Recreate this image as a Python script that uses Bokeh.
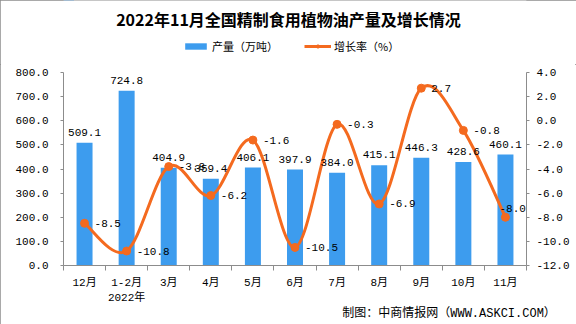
from bokeh.plotting import figure
from bokeh.models import (Range1d, LinearAxis, FixedTicker, NumeralTickFormatter,
                          ColumnDataSource, LabelSet, Label, Legend, LegendItem)
from bokeh.layouts import column
from bokeh.core.properties import value
from bokeh.embed import file_html
from bokeh.resources import INLINE
import numpy as np

title_text = "2022年11月全国精制食用植物油产量及增长情况"
footer_text = "制图：中商情报网（WWW.ASKCI.COM）"
series_names = ["产量（万吨）", "增长率（%）"]
categories = ["12月", "1-2月", "3月", "4月", "5月", "6月", "7月", "8月", "9月", "10月", "11月"]
year_label = "2022年"
production = [509.1, 724.8, 404.9, 359.4, 406.1, 397.9, 384.0, 415.1, 446.3, 428.6, 460.1]
growth = [-8.5, -10.8, -3.8, -6.2, -1.6, -10.5, -0.3, -6.9, 2.7, -0.8, -8.0]
left_ticks = [0, 100, 200, 300, 400, 500, 600, 700, 800]
right_ticks = [-12, -10, -8, -6, -4, -2, 0, 2, 4]

BLUE = "#3d9cee"
ORANGE = "#f46a1f"
AXIS = "#8c8c8c"
MONO = "'Liberation Mono', 'Noto Sans CJK SC'"
CJK = "Noto Sans CJK SC"
W = 576
TOP_H, MAIN_H = 64, 260
FRAME_L, FRAME_R = 63, 50
FOOTER_POS = 8.66  # category-axis position of the footer text centre

n = len(categories)
xs = np.arange(n, dtype=float)

# ---------- header: title + legend (frame aligned with main chart) ----------
frame_w = W - FRAME_L - FRAME_R
top = figure(width=W, height=TOP_H, output_backend="svg", toolbar_location=None,
             x_range=Range1d(0, frame_w), y_range=Range1d(0, TOP_H),
             min_border_left=FRAME_L, min_border_right=FRAME_R,
             min_border_top=0, min_border_bottom=0)
top.axis.visible = False
top.grid.visible = False
top.outline_line_color = None
top.background_fill_color = "white"
top.border_fill_color = "white"
top.add_layout(Label(x=288 - FRAME_L, y=TOP_H - 18, text=title_text, text_align="center",
                     text_baseline="middle", text_font=CJK, text_font_size="16px",
                     text_font_style="bold", text_color="#000000"))
# legend proxies: same data, lying outside this header's visible range
hdr = ColumnDataSource(dict(x=xs, v=production))
lg_bar = top.vbar(x="x", top="v", bottom="v", width=1, source=hdr, fill_color=BLUE, line_color=None)
lg_line = top.line(x="x", y="v", source=hdr, line_color=ORANGE, line_width=3)
lg_pt = top.scatter(x="x", y="v", source=hdr, size=7, fill_color=ORANGE, line_color=ORANGE)
legend = Legend(items=[LegendItem(label=series_names[0], renderers=[lg_bar]),
                       LegendItem(label=series_names[1], renderers=[lg_line, lg_pt])],
                location=(182 - FRAME_L, 10), orientation="horizontal",
                glyph_width=27, glyph_height=8, label_standoff=3, spacing=26,
                padding=0, margin=0, border_line_alpha=0, background_fill_alpha=0,
                label_text_font=CJK, label_text_font_size="11px", label_text_color="#000000")
top.add_layout(legend, "center")

# ---------- main chart ----------
p = figure(width=W, height=MAIN_H, output_backend="svg", toolbar_location=None,
           x_range=Range1d(-0.5, n - 0.5), y_range=Range1d(0, 800),
           min_border_left=FRAME_L, min_border_right=FRAME_R, min_border_top=8,
           min_border_bottom=MAIN_H - 8 - 193)
p.extra_y_ranges = {"rate": Range1d(-12, 4)}
p.outline_line_color = None
p.xgrid.visible = False
p.ygrid.visible = False
p.background_fill_color = "white"
p.border_fill_color = "white"

src = ColumnDataSource(dict(x=xs, top=production, lbl=[f"{v:.1f}" for v in production]))
p.vbar(x="x", top="top", width=0.38, source=src, fill_color=BLUE, line_color=None)

# smooth growth curve (Bezier segments through the data points)
g = np.array(growth, dtype=float)
xp = np.concatenate([[xs[0]], xs, [xs[-1]]])
yp = np.concatenate([[g[0]], g, [g[-1]]])
x0, y0, x1, y1, cx0, cy0, cx1, cy1 = [], [], [], [], [], [], [], []
for i in range(n - 1):
    j = i + 1
    x0.append(xp[j]); y0.append(yp[j])
    x1.append(xp[j + 1]); y1.append(yp[j + 1])
    cx0.append(xp[j] + (xp[j + 1] - xp[j - 1]) / 6); cy0.append(yp[j] + (yp[j + 1] - yp[j - 1]) / 6)
    cx1.append(xp[j + 1] - (xp[j + 2] - xp[j]) / 6); cy1.append(yp[j + 1] - (yp[j + 2] - yp[j]) / 6)
p.bezier(x0=x0, y0=y0, x1=x1, y1=y1, cx0=cx0, cy0=cy0, cx1=cx1, cy1=cy1,
         y_range_name="rate", line_color=ORANGE, line_width=3)

# label nudges (styling only): last label sits up-left so it stays inside the frame
dx = [10] * n
dy = [0] * n
dx[-1] = -6
dy[-1] = 9
gsrc = ColumnDataSource(dict(x=xs, y=growth, lbl=[f"{v:.1f}" for v in growth], dx=dx, dy=dy))
p.scatter(x="x", y="y", source=gsrc, y_range_name="rate", size=8,
          fill_color=ORANGE, line_color=ORANGE)

p.xaxis.ticker = FixedTicker(ticks=list(range(n)), minor_ticks=[i - 0.5 for i in range(n + 1)])
p.xaxis.major_label_overrides = {i: c for i, c in enumerate(categories)}
p.xaxis.major_tick_out = 0
p.xaxis.major_tick_in = 0
p.xaxis.minor_tick_out = 5
p.xaxis.minor_tick_in = 0
p.xaxis.minor_tick_line_color = AXIS
p.xaxis.axis_line_color = AXIS
p.xaxis.major_label_text_font = MONO
p.xaxis.major_label_text_font_size = "11px"
p.xaxis.major_label_text_color = "#000000"
p.xaxis.major_label_standoff = 6


def text_axis(pos, txt, size, standoff):
    return LinearAxis(ticker=FixedTicker(ticks=[pos]), major_label_overrides={pos: txt},
                      axis_line_color=None, major_tick_line_color=None, minor_tick_line_color=None,
                      major_tick_out=0, major_tick_in=0, minor_tick_out=0, minor_tick_in=0,
                      major_label_standoff=standoff, major_label_text_font=MONO,
                      major_label_text_font_size=size, major_label_text_color="#000000")


p.add_layout(text_axis(1, year_label, "11px", 0), "below")
p.add_layout(text_axis(FOOTER_POS, footer_text, "12px", 0), "below")

p.yaxis.ticker = FixedTicker(ticks=left_ticks)
p.yaxis.formatter = NumeralTickFormatter(format="0.0")
ax_r = LinearAxis(y_range_name="rate", ticker=FixedTicker(ticks=right_ticks),
                  formatter=NumeralTickFormatter(format="0.0"))
p.add_layout(ax_r, "right")
for ax in (p.yaxis[0], ax_r):
    ax.axis_line_color = AXIS
    ax.major_tick_line_color = AXIS
    ax.major_tick_out = 3
    ax.major_tick_in = 0
    ax.minor_tick_out = 0
    ax.minor_tick_in = 0
    ax.major_label_text_font = MONO
    ax.major_label_text_font_size = "11px"
    ax.major_label_text_color = "#000000"
p.yaxis[0].major_label_standoff = 12
ax_r.major_label_standoff = 7

p.add_layout(LabelSet(x="x", y="top", text="lbl", source=src, y_offset=7,
                      text_align="center", text_baseline="bottom",
                      text_font=value("Liberation Mono"), text_font_size="11px",
                      text_color="#000000"))
p.add_layout(LabelSet(x="x", y="y", text="lbl", source=gsrc, y_range_name="rate",
                      x_offset="dx", y_offset="dy", text_align="left", text_baseline="middle",
                      text_font=value("Liberation Mono"), text_font_size="11px",
                      text_color="#000000"))

layout = column(top, p, spacing=0)
layout.styles = {"outline": "1px solid #8c8c8c", "outline-offset": "-1px"}
open("out.html", "w").write(file_html(layout, INLINE))
